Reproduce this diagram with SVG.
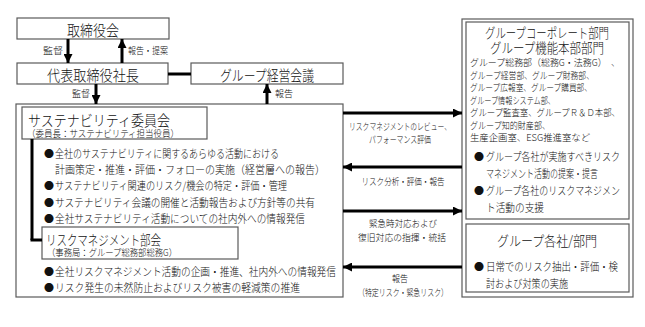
<svg xmlns="http://www.w3.org/2000/svg" width="645" height="327" viewBox="0 0 645 327">
<style>
text{font-family:"Noto Sans CJK JP","Noto Sans",sans-serif;fill:#111;font-weight:300;}
.box{fill:#fff;stroke:#5a5a5a;stroke-width:1.2;}
.t15{font-size:14.5px;}
.t14{font-size:13.5px;}
.t12{font-size:11px;}
.t10{font-size:9.5px;}
.bul{font-size:10px;}
.ln{stroke:#000;stroke-width:3;fill:none;}
.c{text-anchor:middle;}
</style>
<defs>
<marker id="ah" viewBox="0 0 10 10" refX="10" refY="5" markerWidth="9" markerHeight="9" markerUnits="userSpaceOnUse" orient="auto">
<path d="M0,0 L10,5 L0,10 z" fill="#000"/>
</marker>
</defs>
<rect width="645" height="327" fill="#fff"/>

<g id="board">
<rect class="box" x="17" y="18" width="152" height="21"/>
<text class="t15 c" x="93" y="29" dominant-baseline="central" textLength="52" lengthAdjust="spacingAndGlyphs">取締役会</text>
</g>

<g id="president">
<rect class="box" x="17" y="63" width="151" height="21"/>
<text class="t15 c" x="93" y="74" dominant-baseline="central" textLength="92" lengthAdjust="spacingAndGlyphs">代表取締役社長</text>
</g>

<g id="mgmt-meeting">
<rect class="box" x="191" y="63" width="152" height="21"/>
<text class="t15 c" x="267" y="74" dominant-baseline="central" textLength="94" lengthAdjust="spacingAndGlyphs">グループ経営会議</text>
</g>

<g id="sustainability">
<rect class="box" x="16" y="104" width="327" height="193"/>
<rect class="box" x="22" y="107" width="185" height="32"/>
<text class="t15" x="28" y="119" dominant-baseline="central" textLength="142" lengthAdjust="spacingAndGlyphs">サステナビリティ委員会</text>
<text class="t10" x="27" y="133" dominant-baseline="central" textLength="152" lengthAdjust="spacingAndGlyphs">（委員長：サステナビリティ担当役員）</text>
<text class="bul" x="44" y="153" dominant-baseline="central">●</text>
<text class="t12" x="55" y="153" dominant-baseline="central" textLength="224" lengthAdjust="spacingAndGlyphs">全社のサステナビリティに関するあらゆる活動における</text>
<text class="t12" x="55" y="169" dominant-baseline="central" textLength="270" lengthAdjust="spacingAndGlyphs">計画策定・推進・評価・フォローの実施（経営層への報告）</text>
<text class="bul" x="44" y="185" dominant-baseline="central">●</text>
<text class="t12" x="55" y="185" dominant-baseline="central" textLength="232" lengthAdjust="spacingAndGlyphs">サステナビリティ関連のリスク/機会の特定・評価・管理</text>
<text class="bul" x="44" y="202" dominant-baseline="central">●</text>
<text class="t12" x="55" y="202" dominant-baseline="central" textLength="260" lengthAdjust="spacingAndGlyphs">サステナビリティ会議の開催と活動報告および方針等の共有</text>
<text class="bul" x="44" y="218" dominant-baseline="central">●</text>
<text class="t12" x="55" y="218" dominant-baseline="central" textLength="250" lengthAdjust="spacingAndGlyphs">全社サステナビリティ活動についての社内外への情報発信</text>
</g>

<g id="risk-committee">
<rect class="box" x="42" y="227" width="196" height="32"/>
<text class="t14" x="46" y="238.5" dominant-baseline="central" textLength="115" lengthAdjust="spacingAndGlyphs">リスクマネジメント部会</text>
<text class="t10" x="47" y="252" dominant-baseline="central" textLength="130" lengthAdjust="spacingAndGlyphs">（事務局：グループ総務部総務G）</text>
<text class="bul" x="44" y="271" dominant-baseline="central">●</text>
<text class="t12" x="55" y="271" dominant-baseline="central" textLength="281" lengthAdjust="spacingAndGlyphs">全社リスクマネジメント活動の企画・推進、社内外への情報発信</text>
<text class="bul" x="44" y="287" dominant-baseline="central">●</text>
<text class="t12" x="55" y="287" dominant-baseline="central" textLength="245" lengthAdjust="spacingAndGlyphs">リスク発生の未然防止およびリスク被害の軽減策の推進</text>
</g>

<g id="group-outer">
<rect class="box" x="462" y="19" width="171" height="278"/>
</g>

<g id="corporate">
<rect class="box" x="466" y="22" width="163" height="197"/>
<text class="t14 c" x="547" y="32" dominant-baseline="central" textLength="124" lengthAdjust="spacingAndGlyphs">グループコーポレート部門</text>
<text class="t14 c" x="547" y="47" dominant-baseline="central" textLength="114" lengthAdjust="spacingAndGlyphs">グループ機能本部部門</text>
<text class="t10" x="470" y="62" dominant-baseline="central" textLength="150" lengthAdjust="spacingAndGlyphs">グループ総務部（総務G・法務G）　、</text>
<text class="t10" x="470" y="75" dominant-baseline="central" textLength="124" lengthAdjust="spacingAndGlyphs">グループ経営部、グループ財務部、</text>
<text class="t10" x="470" y="87" dominant-baseline="central" textLength="122" lengthAdjust="spacingAndGlyphs">グループ広報室、グループ購買部、</text>
<text class="t10" x="470" y="100" dominant-baseline="central" textLength="85" lengthAdjust="spacingAndGlyphs">グループ情報システム部、</text>
<text class="t10" x="470" y="112" dominant-baseline="central" textLength="150" lengthAdjust="spacingAndGlyphs">グループ監査室、グループＲ＆Ｄ本部、</text>
<text class="t10" x="470" y="125" dominant-baseline="central" textLength="80" lengthAdjust="spacingAndGlyphs">グループ知的財産部、</text>
<text class="t10" x="470" y="137" dominant-baseline="central" textLength="120" lengthAdjust="spacingAndGlyphs">生産企画室、ESG推進室など</text>
<text class="bul" x="474" y="156" dominant-baseline="central">●</text>
<text class="t12" x="486" y="156" dominant-baseline="central" textLength="134" lengthAdjust="spacingAndGlyphs">グループ各社が実施すべきリスク</text>
<text class="t12" x="486" y="173" dominant-baseline="central" textLength="112" lengthAdjust="spacingAndGlyphs">マネジメント活動の提案・提言</text>
<text class="bul" x="474" y="190" dominant-baseline="central">●</text>
<text class="t12" x="486" y="190" dominant-baseline="central" textLength="134" lengthAdjust="spacingAndGlyphs">グループ各社のリスクマネジメン</text>
<text class="t12" x="486" y="207" dominant-baseline="central" textLength="58" lengthAdjust="spacingAndGlyphs">ト活動の支援</text>
</g>

<g id="group-companies">
<rect class="box" x="466" y="224" width="163" height="68"/>
<text class="t14 c" x="547" y="240" dominant-baseline="central" textLength="100" lengthAdjust="spacingAndGlyphs">グループ各社/部門</text>
<text class="bul" x="474" y="266" dominant-baseline="central">●</text>
<text class="t12" x="486" y="266" dominant-baseline="central" textLength="132" lengthAdjust="spacingAndGlyphs">日常でのリスク抽出・評価・検</text>
<text class="t12" x="486" y="283" dominant-baseline="central" textLength="82" lengthAdjust="spacingAndGlyphs">討および対策の実施</text>
</g>

<g id="connectors">
<line class="ln" x1="68" y1="39" x2="68" y2="63" marker-end="url(#ah)"/>
<text class="t10" x="43" y="50" dominant-baseline="central" textLength="20" lengthAdjust="spacingAndGlyphs">監督</text>
<line class="ln" x1="122" y1="63" x2="122" y2="39" marker-end="url(#ah)"/>
<text class="t10" x="128" y="50" dominant-baseline="central" textLength="40" lengthAdjust="spacingAndGlyphs">報告・提案</text>
<line class="ln" x1="168" y1="74" x2="191" y2="74"/>
<line class="ln" x1="96" y1="84" x2="96" y2="104" marker-end="url(#ah)"/>
<text class="t10" x="72" y="93" dominant-baseline="central" textLength="18" lengthAdjust="spacingAndGlyphs">監督</text>
<line class="ln" x1="267" y1="104" x2="267" y2="84" marker-end="url(#ah)"/>
<text class="t10" x="275" y="93" dominant-baseline="central" textLength="18" lengthAdjust="spacingAndGlyphs">報告</text>
<line class="ln" x1="32" y1="139" x2="32" y2="240"/>
<line class="ln" x1="30.5" y1="240" x2="42" y2="240"/>

<line class="ln" x1="343" y1="113" x2="462" y2="113" marker-end="url(#ah)"/>
<text class="t10 c" x="400" y="126" dominant-baseline="central" textLength="102" lengthAdjust="spacingAndGlyphs">リスクマネジメントのレビュー、</text>
<text class="t10 c" x="400" y="139" dominant-baseline="central" textLength="62" lengthAdjust="spacingAndGlyphs">パフォーマンス評価</text>
<line class="ln" x1="462" y1="167" x2="343" y2="167" marker-end="url(#ah)"/>
<text class="t10 c" x="403" y="181" dominant-baseline="central" textLength="83" lengthAdjust="spacingAndGlyphs">リスク分析・評価・報告</text>
<line class="ln" x1="343" y1="211" x2="462" y2="211" marker-end="url(#ah)"/>
<text class="t10 c" x="403" y="223" dominant-baseline="central" textLength="68" lengthAdjust="spacingAndGlyphs">緊急時対応および</text>
<text class="t10 c" x="402" y="237" dominant-baseline="central" textLength="88" lengthAdjust="spacingAndGlyphs">復旧対応の指揮・統括</text>
<line class="ln" x1="462" y1="267" x2="343" y2="267" marker-end="url(#ah)"/>
<text class="t10 c" x="400" y="278" dominant-baseline="central" textLength="16" lengthAdjust="spacingAndGlyphs">報告</text>
<text class="t10 c" x="403" y="292" dominant-baseline="central" textLength="90" lengthAdjust="spacingAndGlyphs">（特定リスク・緊急リスク）</text>
</g>
</svg>
